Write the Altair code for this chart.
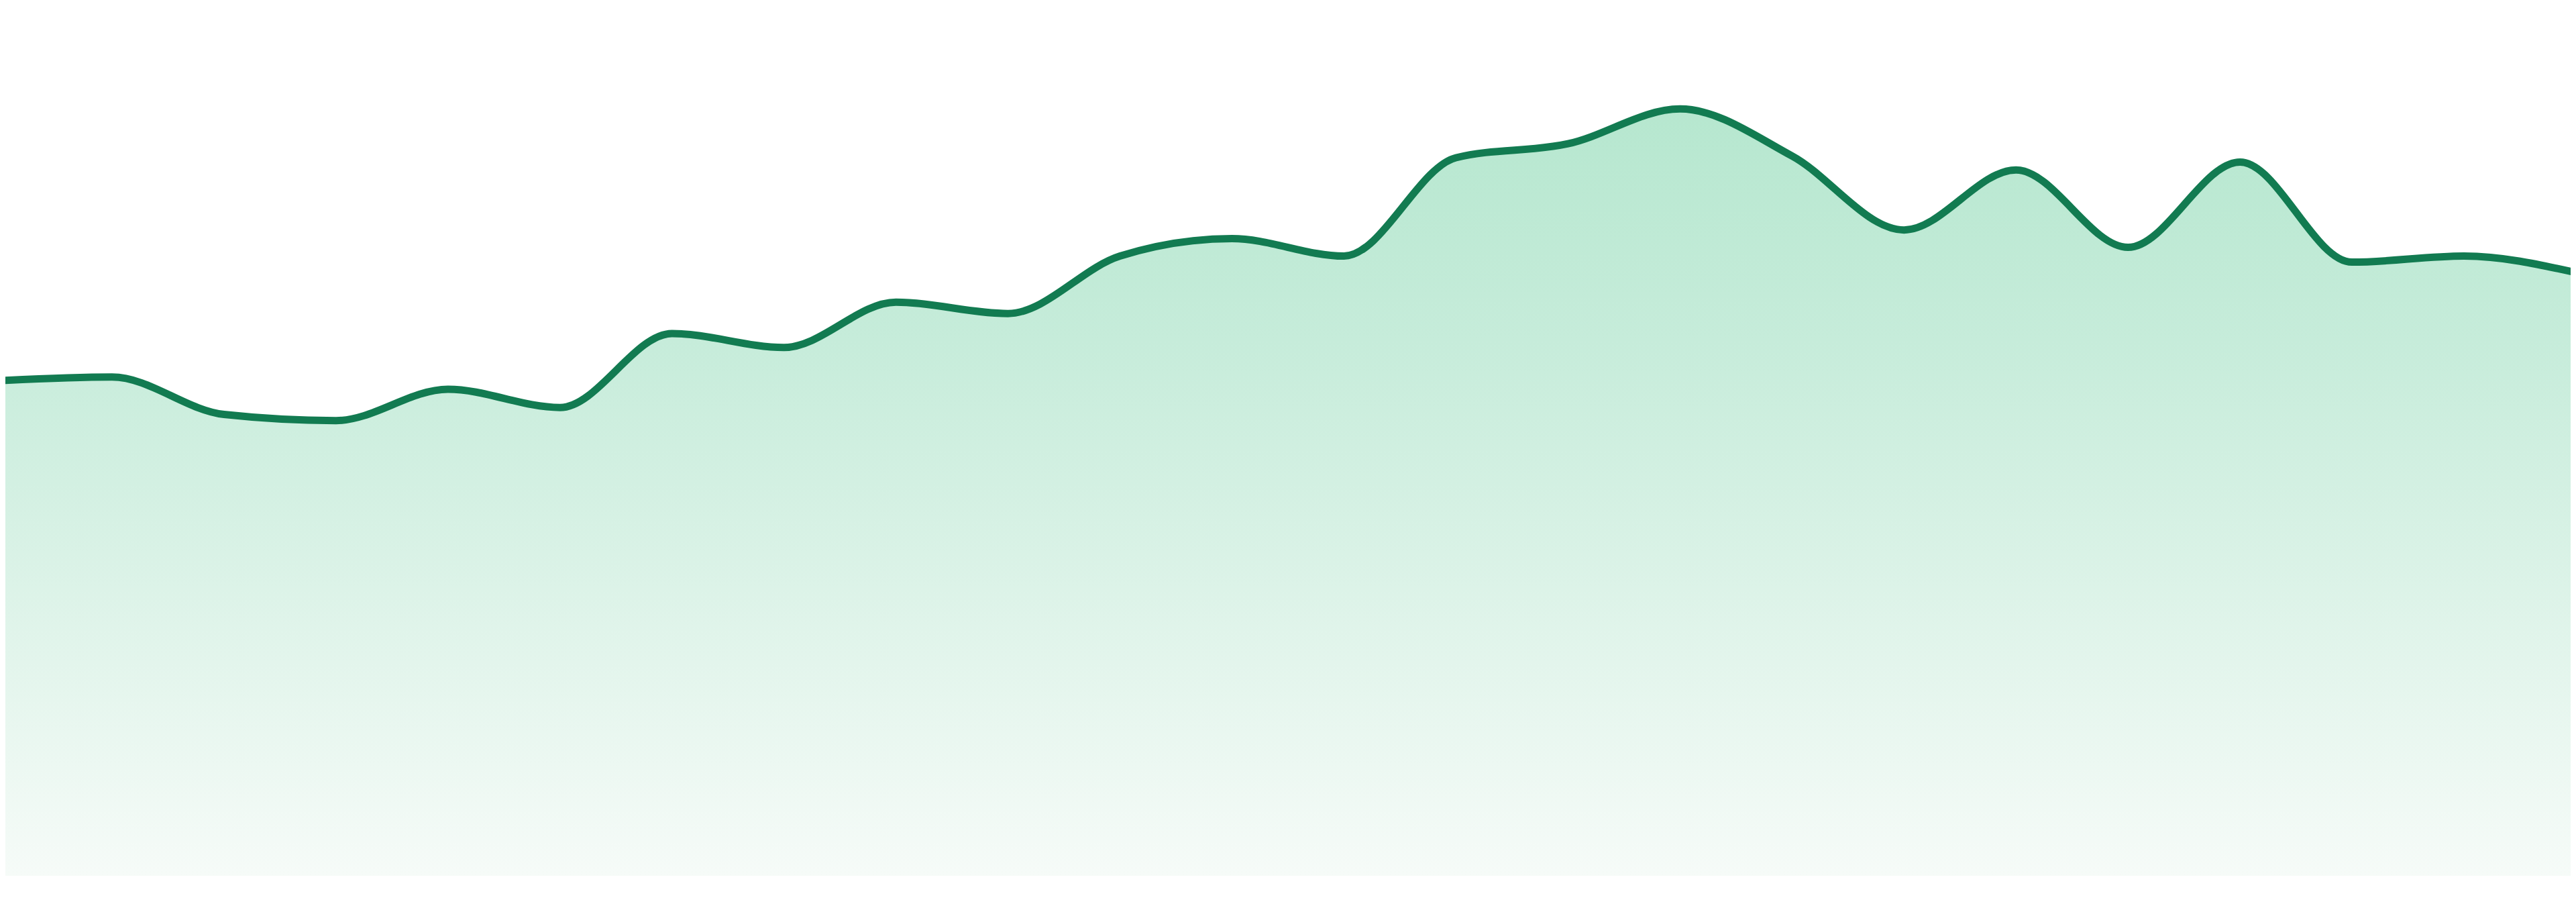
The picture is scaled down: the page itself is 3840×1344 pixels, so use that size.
import altair as alt
import pandas as pd

# Data (index of the sample and its value)
idx = list(range(24))
values = [56.9, 57.3, 53.0, 52.3, 55.9, 53.8, 62.3, 60.7, 65.9, 64.6, 71.2, 73.2,
          71.2, 82.5, 84.1, 88.1, 82.7, 74.2, 81.1, 72.2, 82.0, 70.5, 71.2, 69.3]

df = pd.DataFrame({"i": idx, "v": values})

x_enc = alt.X("i:Q", axis=None,
              scale=alt.Scale(domain=[0.048, 22.952], nice=False, zero=False))
y_enc = alt.Y("v:Q", axis=None,
              scale=alt.Scale(domain=[0, 100], nice=False))

area = alt.Chart(df).mark_area(
    interpolate="monotone",
    clip=True,
    color=alt.Gradient(
        gradient="linear",
        x1=0, y1=0, x2=0, y2=1,
        stops=[alt.GradientStop(color="#b6e7cf", offset=0),
               alt.GradientStop(color="#c6ecda", offset=0.3),
               alt.GradientStop(color="#f6fbf8", offset=1)],
    ),
).encode(x=x_enc, y=y_enc)

line = alt.Chart(df).mark_line(
    interpolate="monotone",
    clip=True,
    color="#127b51",
    strokeWidth=11,
    strokeCap="round",
).encode(x=x_enc, y=y_enc)

chart = (area + line).properties(
    width=3824,
    height=1297,
    padding=0,
    autosize=alt.AutoSizeParams(type="none"),
    background="white",
).configure_view(stroke=None)

chart.save("out.html", embed_options={"renderer": "svg", "actions": False})
